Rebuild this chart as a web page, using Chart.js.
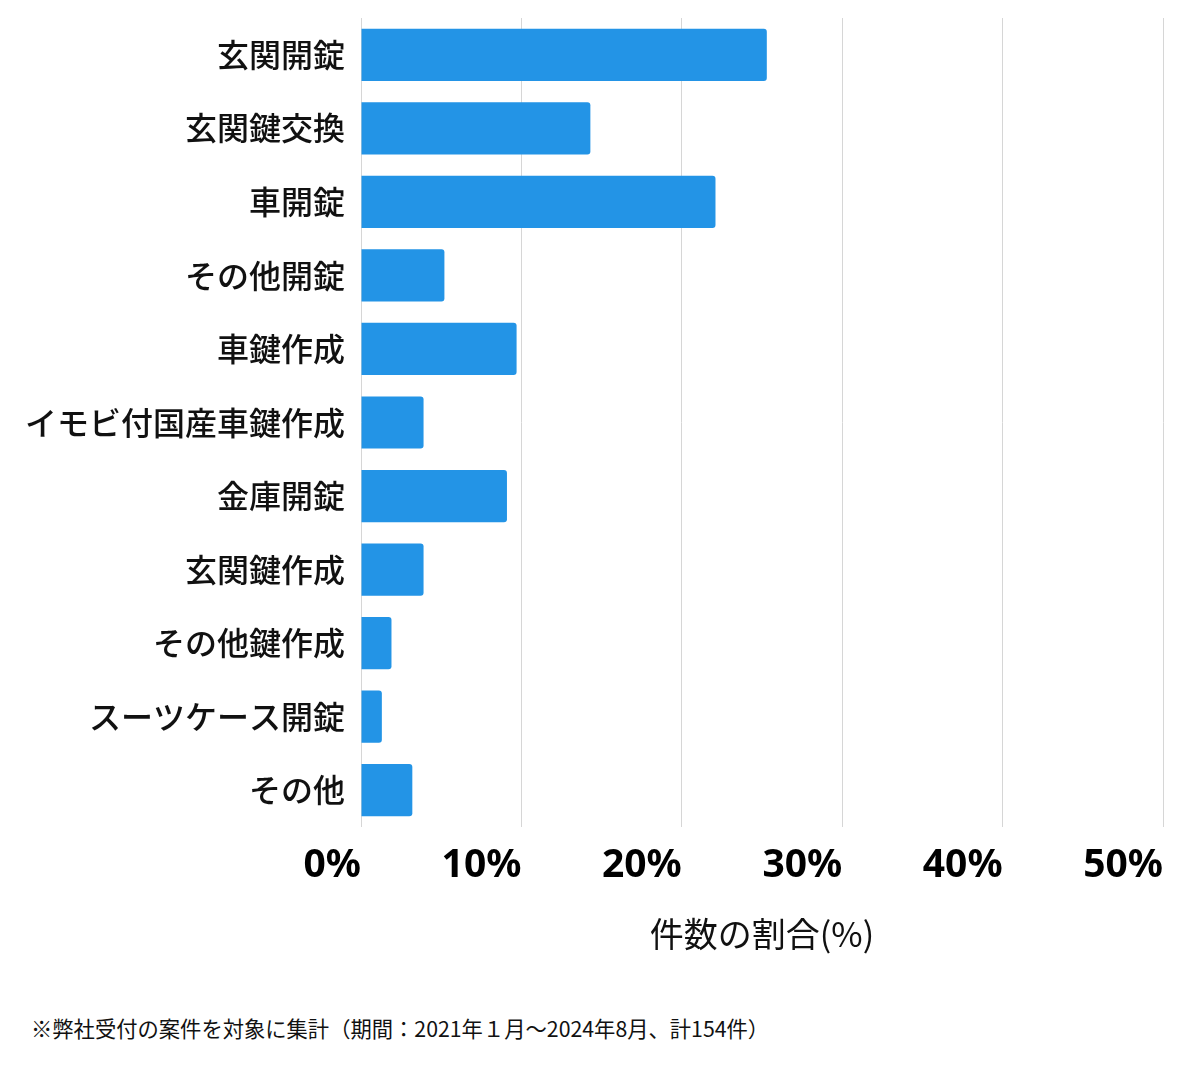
<!DOCTYPE html>
<html lang="ja">
<head>
<meta charset="utf-8">
<script src="https://cdn.jsdelivr.net/npm/chart.js@4"></script>
<style>
  html, body { margin: 0; padding: 0; background: #fff; }
  #wrap { position: relative; width: 1200px; height: 990px; }
  #note {
    position: absolute; left: 31px; top: 1012px;
    font-family: "Noto Sans CJK JP", sans-serif; font-size: 21.3px; color: #111;
  }
</style>
</head>
<body>
<div id="wrap"><canvas id="bars"></canvas></div>
<div id="note">※弊社受付の案件を対象に集計（期間：2021年１月～2024年8月、計154件）</div>
<script>
const categories = [
  "玄関開錠", "玄関鍵交換", "車開錠", "その他開錠", "車鍵作成",
  "イモビ付国産車鍵作成", "金庫開錠", "玄関鍵作成", "その他鍵作成",
  "スーツケース開錠", "その他"
];
const shares = [25.3, 14.3, 22.1, 5.2, 9.7, 3.9, 9.1, 3.9, 1.9, 1.3, 3.2];
const tickValues = [0, 10, 20, 30, 40, 50];

let bar = new Chart(document.getElementById("bars"), {
  type: "bar",
  data: {
    labels: categories,
    datasets: [
      {
        data: shares,
        backgroundColor: "#2394e6",
        borderRadius: 3,
        borderSkipped: "start",
        categoryPercentage: 1,
        barPercentage: 0.71,
      },
    ],
  },
  options: {
    indexAxis: "y",
    responsive: true,
    maintainAspectRatio: false,
    animation: false,
    layout: { padding: { top: 18, right: 37, left: 0, bottom: 0 } },
    plugins: {
      legend: { display: false },
      tooltip: { enabled: false },
    },
    scales: {
      x: {
        min: 0,
        max: 50,
        afterBuildTicks: (axis) => {
          axis.ticks = tickValues.map((v) => ({ value: v }));
        },
        afterFit: (axis) => {
          axis.height = 163;
        },
        grid: { color: "#d6d6d6", drawTicks: false },
        border: { display: false },
        ticks: {
          align: "end",
          padding: 15,
          color: "#000",
          font: { family: "'Noto Sans', 'Noto Sans CJK JP'", size: 39, weight: "bold" },
          callback: (v) => v + "%",
        },
        title: {
          display: true,
          text: "件数の割合(%)",
          color: "#111",
          padding: { top: 0, bottom: 36 },
          font: { family: "'Noto Sans CJK JP'", size: 34 },
        },
      },
      y: {
        afterFit: (axis) => {
          axis.width = 361;
          axis.paddingTop = 0;
          axis.paddingBottom = 0;
        },
        grid: { display: false, drawTicks: false },
        border: { display: false },
        ticks: {
          padding: 16,
          color: "#111",
          font: { family: "'Noto Sans CJK JP'", size: 32, weight: 500 },
        },
      },
    },
  },
});
</script>
</body>
</html>
